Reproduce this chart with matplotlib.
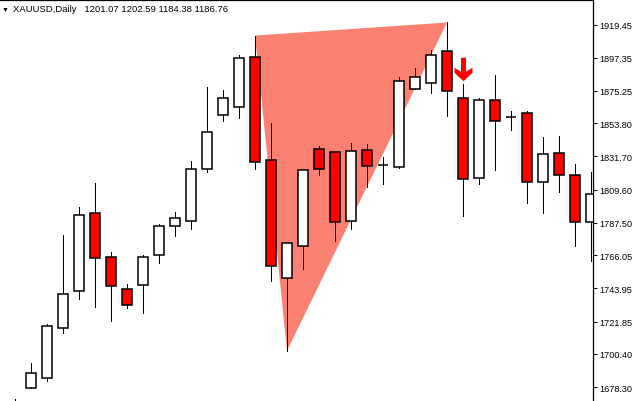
import numpy as np
import matplotlib.pyplot as plt
from matplotlib.path import Path

# XAUUSD daily candles
opens = [1660.0, 1677.4, 1684.1, 1717.3, 1742.5, 1794.4, 1765.1, 1743.2, 1745.9, 1765.8,
         1785.7, 1789.0, 1823.6, 1859.1, 1864.8, 1898.0, 1829.6, 1750.5, 1771.8, 1836.9,
         1834.9, 1789.0, 1836.2, 1825.8, 1824.9, 1876.8, 1880.3, 1902.0, 1870.5, 1817.6,
         1869.4, 1857.9, 1860.8, 1815.0, 1834.2, 1819.6, 1788.4]
highs = [1670.3, 1694.2, 1720.2, 1779.7, 1797.9, 1814.3, 1767.8, 1746.7, 1766.0, 1786.6,
         1794.6, 1828.5, 1877.6, 1875.6, 1898.9, 1912.1, 1853.7, 1774.4, 1822.9, 1838.4,
         1834.9, 1840.4, 1839.7, 1831.1, 1884.7, 1890.2, 1902.8, 1920.8, 1880.0, 1870.8,
         1886.2, 1862.1, 1861.7, 1844.6, 1845.2, 1826.6, 1821.6]
lows = [1655.0, 1677.4, 1682.1, 1714.4, 1737.0, 1731.7, 1722.4, 1731.0, 1727.6, 1760.9,
        1778.8, 1783.7, 1821.1, 1855.2, 1857.4, 1823.6, 1748.9, 1702.4, 1756.9, 1819.4,
        1775.5, 1783.5, 1811.6, 1813.5, 1823.8, 1876.8, 1873.8, 1858.5, 1792.1, 1813.5,
        1822.7, 1849.2, 1801.0, 1794.1, 1808.1, 1772.2, 1762.2]
closes = [1666.0, 1687.4, 1718.6, 1739.9, 1793.0, 1763.8, 1745.2, 1732.6, 1765.1, 1785.1,
          1791.0, 1823.6, 1848.2, 1870.8, 1897.3, 1828.2, 1758.5, 1774.4, 1822.9, 1823.6,
          1788.4, 1835.5, 1825.6, 1825.8, 1882.0, 1884.7, 1899.3, 1874.9, 1816.9, 1869.4,
          1855.5, 1857.9, 1815.0, 1833.6, 1819.6, 1788.4, 1807.0]

# pattern points: high -> low -> high, and the sell signal bar
tri_idx = [15, 17, 27]
signal_idx = 28

price_ticks = [1919.45, 1897.35, 1875.25, 1853.80, 1831.70, 1809.60,
               1787.50, 1766.05, 1743.95, 1721.85, 1700.40, 1678.30]
title_text = "XAUUSD,Daily   1201.07 1202.59 1184.38 1186.76"

o = np.array(opens)
h = np.array(highs)
l = np.array(lows)
c = np.array(closes)
x = np.arange(len(o))

plt.rcParams['font.family'] = ['Liberation Sans', 'DejaVu Sans']

fig = plt.figure(figsize=(6.43, 4.02), dpi=100)
ax = fig.add_axes([0, 0, 593 / 643, 401.5 / 402])

# triangle pattern
tri_y = [h[tri_idx[0]], l[tri_idx[1]], h[tri_idx[2]]]
ax.fill(tri_idx, tri_y, color='#FA8072', lw=0, zorder=1)

# wicks
ax.vlines(x, l, h, color='black', lw=0.6, zorder=2, antialiased=False)

# bodies
up = c >= o
body_bot = np.minimum(o, c)
body_h = np.abs(c - o)
ax.bar(x[up], body_h[up], bottom=body_bot[up], width=0.6,
       color='white', edgecolor='black', lw=1.1, zorder=3)
ax.bar(x[~up], body_h[~up], bottom=body_bot[~up], width=0.6,
       color='#FF0000', edgecolor='black', lw=1.1, zorder=3)

# sell arrow above the signal bar
arrow = Path([(-2.5, 11.75), (2.5, 11.75), (2.5, -2.25), (9, 1.75), (9, -3.25),
              (0, -11.75), (-9, -3.25), (-9, 1.75), (-2.5, -2.25), (-2.5, 11.75)])
ax.plot(signal_idx, h[signal_idx] + 9.6, marker=arrow, markersize=16.9,
        color='#FF0000', mec='none', zorder=4)

ax.set_xlim(-0.9375, 36.125)
ax.set_ylim(1669.0, 1936.1)

ax.spines['left'].set_visible(False)
ax.spines['bottom'].set_visible(False)
ax.spines['right'].set_linewidth(0.9)
ax.spines['top'].set_linewidth(0.9)
ax.set_xticks([])
ax.yaxis.tick_right()
ax.set_yticks(price_ticks)
ax.set_yticklabels(['%.2f' % p for p in price_ticks])
ax.tick_params(axis='y', direction='out', length=3, width=0.7, pad=1.5,
               labelsize=6.6, colors='black')

ax.text(2 / 593, 1 - 9.5 / 402, '\u25bc', transform=ax.transAxes, fontsize=5,
        va='center', ha='left')
ax.text(13 / 593, 1 - 9.5 / 402, title_text, transform=ax.transAxes,
        fontsize=6.8, va='center', ha='left')

fig.savefig('out.png', dpi=100)
